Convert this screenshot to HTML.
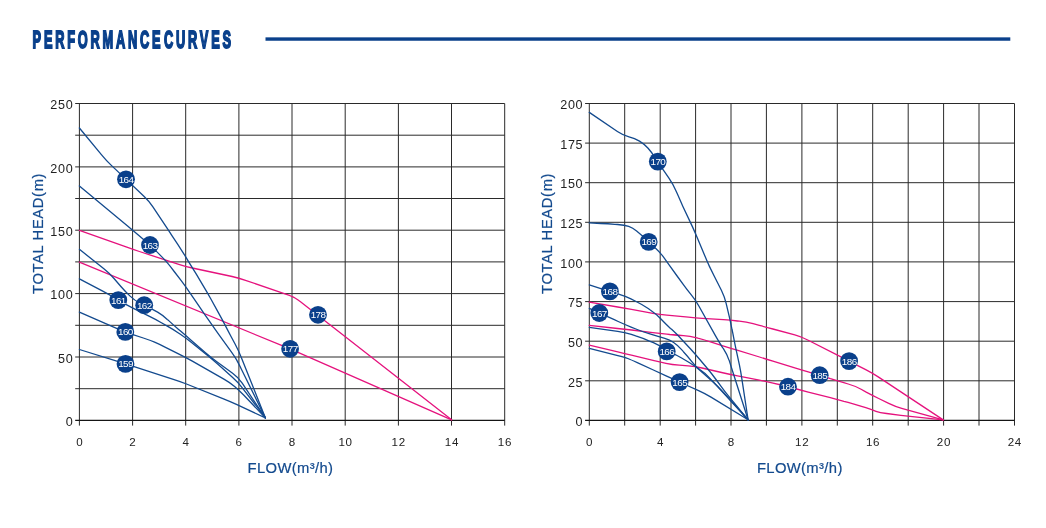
<!DOCTYPE html>
<html lang="en"><head><meta charset="utf-8"><title>Performance Curves</title>
<style>
html,body{margin:0;padding:0;background:#fff;}
body{width:1046px;height:528px;overflow:hidden;position:relative;font-family:"Liberation Sans",sans-serif;}
svg{position:absolute;left:0;top:0;display:block;}
.tk{font-size:12.6px;fill:#222;letter-spacing:0.7px;}
.tb{font-size:11.6px;}
.ax{font-size:14.8px;fill:#134a8e;letter-spacing:0.36px;stroke:#134a8e;stroke-width:0.2;}
.ay{font-size:14.8px;letter-spacing:0.6px;}
.dt{font-size:9.9px;fill:#fff;letter-spacing:-0.55px;}
.g line{stroke:#2a2a2a;stroke-width:1;}
.b path{fill:none;stroke:#134a8e;stroke-width:1.3;stroke-linejoin:round;stroke-linecap:round;}
.p path{fill:none;stroke:#e5127d;stroke-width:1.3;stroke-linejoin:round;stroke-linecap:round;}
.d circle{fill:#0a408b;}
</style></head><body>
<svg width="1046" height="528" viewBox="0 0 1046 528" font-family="Liberation Sans, sans-serif">
<text id="title" transform="translate(32.6,47.5) scale(0.525,1)" x="0" y="0" font-size="24.4" font-weight="bold" fill="#0a408b" stroke="#0a408b" stroke-width="1.5" vector-effect="non-scaling-stroke" textLength="377.9" lengthAdjust="spacing" word-spacing="-10.5">PERFORMANCE CURVES</text>
<rect x="265.5" y="37.35" width="744.8" height="3.4" fill="#0a408b"/>
<g class="g">
<line x1="79.4" y1="103.5" x2="79.4" y2="425.6"/>
<line x1="132.6" y1="103.5" x2="132.6" y2="425.6"/>
<line x1="185.7" y1="103.5" x2="185.7" y2="425.6"/>
<line x1="238.9" y1="103.5" x2="238.9" y2="425.6"/>
<line x1="292.0" y1="103.5" x2="292.0" y2="425.6"/>
<line x1="345.2" y1="103.5" x2="345.2" y2="425.6"/>
<line x1="398.4" y1="103.5" x2="398.4" y2="425.6"/>
<line x1="451.5" y1="103.5" x2="451.5" y2="425.6"/>
<line x1="504.7" y1="103.5" x2="504.7" y2="425.6"/>
<line x1="75.2" y1="103.5" x2="504.7" y2="103.5"/>
<line x1="75.2" y1="135.2" x2="504.7" y2="135.2"/>
<line x1="75.2" y1="166.9" x2="504.7" y2="166.9"/>
<line x1="75.2" y1="198.5" x2="504.7" y2="198.5"/>
<line x1="75.2" y1="230.2" x2="504.7" y2="230.2"/>
<line x1="75.2" y1="261.9" x2="504.7" y2="261.9"/>
<line x1="75.2" y1="293.6" x2="504.7" y2="293.6"/>
<line x1="75.2" y1="325.3" x2="504.7" y2="325.3"/>
<line x1="75.2" y1="357.0" x2="504.7" y2="357.0"/>
<line x1="75.2" y1="388.7" x2="504.7" y2="388.7"/>
<line x1="75.2" y1="420.4" x2="504.7" y2="420.4" style="stroke:#151515;stroke-width:1.25"/>
</g>
<g class="p">
<path d="M79.4,230.3L126.1,246.9Q132.7,249.3 139.4,251.5L178.8,264.3Q185.5,266.5 192.3,268.0L232.1,276.5Q238.9,278.0 245.5,280.3L285.7,294.1Q292.3,296.4 295.0,298.0L295.0,298.0Q297.7,299.6 300.5,301.8L300.5,301.8Q303.3,304.0 308.8,308.3L451.6,419.8"/>
<path d="M79.4,262.1L283.4,346.2Q289.9,348.9 296.3,351.7L451.6,419.8"/>
</g>
<g class="b">
<path d="M79.4,128.0L101.6,154.9Q106.0,160.3 111.1,165.1L143.9,196.3Q149.0,201.1 152.9,206.9L164.4,224.2Q168.3,230.0 172.1,235.9L177.6,244.1Q181.4,250.0 185.1,255.9L189.0,262.3Q192.7,268.2 196.3,274.2L204.3,287.6Q207.9,293.6 211.3,299.7L218.1,312.1Q221.5,318.2 224.6,324.1L224.6,324.1Q227.6,330.0 230.9,336.2L235.2,344.3Q238.5,350.5 241.1,357.0L265.4,417.9"/>
<path d="M79.4,186.0L127.3,225.7Q132.7,230.2 138.0,234.8L144.7,240.4Q150.0,245.0 155.0,249.9L159.9,254.9Q164.9,259.8 167.4,262.9L167.4,262.9Q170.0,265.9 174.2,271.5L181.4,280.9Q185.6,286.5 189.6,292.3L196.3,302.2Q200.3,308.0 204.3,313.8L211.5,324.2Q215.5,330.0 219.6,335.7L230.8,351.1Q234.9,356.8 236.6,359.9L236.6,359.9Q238.3,362.9 241.4,369.2L265.4,417.9"/>
<path d="M79.4,249.3L103.9,268.8Q109.4,273.2 114.0,278.5L120.9,286.5Q125.5,291.8 130.1,296.1L130.1,296.1Q134.7,300.4 139.2,302.8L139.2,302.8Q143.8,305.2 148.4,307.4L148.4,307.4Q153.0,309.6 157.6,312.1L157.6,312.1Q162.2,314.7 167.3,319.5L167.9,319.9Q173.0,324.7 178.3,329.2L180.5,331.1Q185.8,335.6 191.1,340.2L205.5,352.8Q210.8,357.4 216.5,361.5L232.6,373.2Q238.3,377.3 242.2,383.1L265.4,417.9"/>
<path d="M79.4,278.9L103.2,291.4Q109.4,294.7 115.4,298.3L120.6,301.4Q126.6,305.0 132.9,308.1L149.0,316.2Q155.3,319.3 161.4,322.7L166.9,325.9Q173.0,329.3 178.8,333.2L180.0,334.0Q185.8,337.9 191.2,342.3L207.6,355.6Q213.0,360.0 218.2,364.6L232.4,377.2Q237.6,381.8 241.9,387.3L265.4,417.9"/>
<path d="M79.4,312.1L118.3,329.2Q124.7,332.0 131.4,334.2L143.3,338.0Q150.0,340.2 154.6,342.2L154.6,342.2Q159.2,344.2 165.5,347.3L179.5,354.3Q185.8,357.4 191.9,360.9L223.9,379.1Q230.0,382.6 234.6,386.4L234.6,386.4Q239.1,390.2 243.9,395.3L265.4,417.9"/>
<path d="M79.4,349.5L118.4,361.6Q125.1,363.7 131.8,365.8L173.3,379.3Q180.0,381.4 186.5,384.0L223.5,398.9Q230.0,401.5 236.4,404.4L265.4,417.9"/>
</g>
<g class="d">
<circle cx="126.0" cy="179.3" r="8.9"/><text class="dt" x="126.1" y="182.8" text-anchor="middle">164</text>
<circle cx="150.0" cy="245.0" r="8.9"/><text class="dt" x="150.1" y="248.5" text-anchor="middle">163</text>
<circle cx="118.3" cy="300.1" r="8.9"/><text class="dt" x="118.4" y="303.6" text-anchor="middle">161</text>
<circle cx="144.2" cy="305.2" r="8.9"/><text class="dt" x="144.3" y="308.7" text-anchor="middle">162</text>
<circle cx="125.3" cy="331.9" r="8.9"/><text class="dt" x="125.4" y="335.4" text-anchor="middle">160</text>
<circle cx="125.5" cy="363.9" r="8.9"/><text class="dt" x="125.6" y="367.4" text-anchor="middle">159</text>
<circle cx="318.0" cy="314.8" r="8.9"/><text class="dt" x="318.1" y="318.3" text-anchor="middle">178</text>
<circle cx="290.1" cy="348.8" r="8.9"/><text class="dt" x="290.2" y="352.3" text-anchor="middle">177</text>
</g>
<text class="tk tb" x="79.8" y="445.5" text-anchor="middle">0</text>
<text class="tk tb" x="132.9" y="445.5" text-anchor="middle">2</text>
<text class="tk tb" x="186.1" y="445.5" text-anchor="middle">4</text>
<text class="tk tb" x="239.2" y="445.5" text-anchor="middle">6</text>
<text class="tk tb" x="292.4" y="445.5" text-anchor="middle">8</text>
<text class="tk tb" x="345.6" y="445.5" text-anchor="middle">10</text>
<text class="tk tb" x="398.7" y="445.5" text-anchor="middle">12</text>
<text class="tk tb" x="451.9" y="445.5" text-anchor="middle">14</text>
<text class="tk tb" x="505.0" y="445.5" text-anchor="middle">16</text>
<text class="tk" x="73.4" y="109.2" text-anchor="end">250</text>
<text class="tk" x="73.4" y="172.6" text-anchor="end">200</text>
<text class="tk" x="73.4" y="235.9" text-anchor="end">150</text>
<text class="tk" x="73.4" y="299.3" text-anchor="end">100</text>
<text class="tk" x="73.4" y="362.7" text-anchor="end">50</text>
<text class="tk" x="73.4" y="426.1" text-anchor="end">0</text>
<text class="ax" x="290.5" y="472.5" text-anchor="middle">FLOW(m³/h)</text>
<text class="ax ay" transform="translate(42.5,233.4) rotate(-90)" text-anchor="middle">TOTAL HEAD(m)</text>
<g class="g">
<line x1="589.3" y1="103.5" x2="589.3" y2="425.6"/>
<line x1="624.7" y1="103.5" x2="624.7" y2="425.6"/>
<line x1="660.2" y1="103.5" x2="660.2" y2="425.6"/>
<line x1="695.6" y1="103.5" x2="695.6" y2="425.6"/>
<line x1="731.0" y1="103.5" x2="731.0" y2="425.6"/>
<line x1="766.4" y1="103.5" x2="766.4" y2="425.6"/>
<line x1="801.9" y1="103.5" x2="801.9" y2="425.6"/>
<line x1="837.3" y1="103.5" x2="837.3" y2="425.6"/>
<line x1="872.7" y1="103.5" x2="872.7" y2="425.6"/>
<line x1="908.2" y1="103.5" x2="908.2" y2="425.6"/>
<line x1="943.6" y1="103.5" x2="943.6" y2="425.6"/>
<line x1="979.0" y1="103.5" x2="979.0" y2="425.6"/>
<line x1="1014.5" y1="103.5" x2="1014.5" y2="425.6"/>
<line x1="585.1" y1="103.5" x2="1014.5" y2="103.5"/>
<line x1="585.1" y1="143.1" x2="1014.5" y2="143.1"/>
<line x1="585.1" y1="182.7" x2="1014.5" y2="182.7"/>
<line x1="585.1" y1="222.3" x2="1014.5" y2="222.3"/>
<line x1="585.1" y1="261.9" x2="1014.5" y2="261.9"/>
<line x1="585.1" y1="301.6" x2="1014.5" y2="301.6"/>
<line x1="585.1" y1="341.2" x2="1014.5" y2="341.2"/>
<line x1="585.1" y1="380.8" x2="1014.5" y2="380.8"/>
<line x1="585.1" y1="420.4" x2="1014.5" y2="420.4" style="stroke:#151515;stroke-width:1.25"/>
</g>
<g class="p">
<path d="M589.3,302.1L617.7,307.0Q624.6,308.2 631.5,309.4L652.9,313.3Q659.8,314.5 666.8,315.2L688.4,317.2Q695.4,317.9 702.4,318.4L723.4,319.7Q730.4,320.2 737.4,321.0L739.3,321.2Q746.3,322.0 753.1,323.7L759.4,325.4Q766.2,327.1 772.9,329.0L794.8,334.9Q801.5,336.8 807.7,340.0L842.9,357.9Q849.1,361.1 855.3,364.3L866.2,369.8Q872.4,373.0 878.2,376.9L943.2,419.9"/>
<path d="M589.3,325.4L617.6,328.5Q624.6,329.2 631.6,330.0L652.8,332.6Q659.8,333.4 666.8,334.1L669.8,334.5Q676.8,335.2 683.4,335.6L683.4,335.6Q690.0,336.0 696.8,337.8L697.8,338.2Q704.6,340.0 711.3,342.1L723.7,346.1Q730.4,348.2 737.1,350.2L759.5,357.0Q766.2,359.0 772.9,361.1L794.8,367.9Q801.5,370.0 808.2,371.9L813.0,373.3Q819.7,375.2 826.4,377.3L830.4,378.7Q837.1,380.8 843.8,382.7L848.2,384.0Q854.9,385.9 861.1,389.2L866.2,392.1Q872.4,395.4 878.7,398.5L888.7,403.4Q895.0,406.5 901.7,408.4L943.2,419.9"/>
<path d="M589.3,345.1L617.8,351.8Q624.6,353.4 631.4,355.1L653.0,360.3Q659.8,362.0 666.0,363.3L666.0,363.3Q672.2,364.6 679.2,365.2L688.2,365.9Q695.2,366.5 702.0,368.0L723.8,373.0Q730.6,374.5 737.5,375.8L759.4,380.1Q766.3,381.4 773.1,383.1L781.2,385.0Q788.0,386.7 794.8,388.5L794.8,388.5Q801.5,390.3 808.3,392.1L830.3,397.7Q837.1,399.5 843.9,401.3L848.1,402.3Q854.9,404.1 861.5,406.3L865.8,407.7Q872.4,409.9 876.0,411.3L876.0,411.3Q879.7,412.7 886.6,413.5L900.9,415.3Q907.8,416.1 914.8,416.8L943.2,419.9"/>
</g>
<g class="b">
<path d="M589.3,112.4L617.4,131.5Q623.2,135.4 629.0,136.8L629.0,136.8Q634.7,138.2 639.5,141.1L639.5,141.1Q644.3,144.0 648.1,148.3L648.1,148.3Q651.9,152.6 654.6,157.1L654.6,157.1Q657.3,161.6 661.3,167.1L661.3,167.1Q665.3,172.7 669.1,178.4L669.1,178.4Q673.0,184.1 675.8,190.5L677.2,193.6Q680.0,200.0 682.9,206.4L692.4,226.6Q695.3,233.0 698.0,239.5L704.7,255.6Q707.4,262.1 709.3,266.1L709.3,266.1Q711.2,270.0 714.3,276.3L721.5,290.5Q724.6,296.8 726.2,303.6L729.1,315.8Q730.7,322.6 732.0,329.5L732.8,333.1Q734.1,340.0 735.5,346.8L739.5,365.4Q740.9,372.2 741.9,379.1L748.1,419.8"/>
<path d="M589.3,222.9L600.9,223.5Q607.9,223.8 614.9,224.3L617.6,224.5Q624.6,225.0 628.7,226.4L628.7,226.4Q632.8,227.9 636.6,230.9L636.6,230.9Q640.4,234.0 644.7,238.0L644.7,238.0Q649.0,242.0 654.2,246.7L654.8,247.4Q660.0,252.1 664.1,257.8L668.9,264.6Q673.0,270.3 677.1,276.0L683.2,284.3Q687.3,290.0 691.3,294.8L691.3,294.8Q695.3,299.6 698.7,305.7L715.4,335.6Q718.8,341.7 722.6,347.6L723.4,348.6Q727.2,354.5 729.0,360.1L729.1,360.1Q730.9,365.8 733.0,372.5L748.1,419.8"/>
<path d="M589.3,284.9L603.2,289.3Q609.9,291.4 616.6,293.4L617.9,293.8Q624.6,295.8 630.9,298.9L636.1,301.5Q642.4,304.6 648.2,308.5L650.3,310.0Q656.1,313.9 660.7,318.8L660.7,318.8Q665.3,323.7 670.5,328.4L671.6,329.3Q676.8,334.0 681.5,339.2L690.6,349.0Q695.3,354.2 699.8,359.5L707.4,368.5Q711.9,373.8 716.0,379.5L720.7,385.8Q724.8,391.5 729.2,396.9L748.1,419.8"/>
<path d="M589.3,308.4L594.3,310.7Q599.3,313.0 603.6,314.9L603.6,314.9Q607.9,316.8 614.3,319.7L618.2,321.5Q624.6,324.4 631.1,327.1L635.9,329.0Q642.4,331.7 649.1,333.7L653.1,334.9Q659.8,336.9 664.8,338.4L664.8,338.4Q669.9,339.9 673.3,342.2L673.3,342.2Q676.8,344.5 681.6,349.6L683.4,351.7Q688.2,356.8 691.8,361.7L691.8,361.7Q695.3,366.6 700.1,369.8L700.1,369.8Q705.0,372.9 709.7,378.1L748.1,419.8"/>
<path d="M589.3,327.4L617.7,331.3Q624.6,332.3 631.3,334.4L635.7,335.9Q642.4,338.0 648.8,340.8L653.4,342.7Q659.8,345.5 663.2,348.4L663.2,348.4Q666.7,351.4 671.2,352.9L671.2,352.9Q675.6,354.5 681.6,358.0L689.2,362.5Q695.2,366.0 700.4,370.7L713.1,382.0Q718.3,386.7 723.0,391.9L748.1,419.8"/>
<path d="M589.3,348.4L617.8,355.7Q624.6,357.4 627.8,358.5L627.8,358.5Q630.9,359.7 637.3,362.6L653.4,370.0Q659.8,372.9 666.1,375.8L673.3,379.2Q679.6,382.1 686.0,385.0L698.6,390.6Q705.0,393.5 711.0,397.1L748.1,419.8"/>
</g>
<g class="d">
<circle cx="657.8" cy="161.6" r="8.9"/><text class="dt" x="657.9" y="165.1" text-anchor="middle">170</text>
<circle cx="648.7" cy="241.9" r="8.9"/><text class="dt" x="648.8" y="245.4" text-anchor="middle">169</text>
<circle cx="609.9" cy="291.4" r="8.9"/><text class="dt" x="610.0" y="294.9" text-anchor="middle">168</text>
<circle cx="599.3" cy="313.0" r="8.9"/><text class="dt" x="599.4" y="316.5" text-anchor="middle">167</text>
<circle cx="666.7" cy="351.4" r="8.9"/><text class="dt" x="666.8" y="354.9" text-anchor="middle">166</text>
<circle cx="679.6" cy="382.1" r="8.9"/><text class="dt" x="679.7" y="385.6" text-anchor="middle">165</text>
<circle cx="788.0" cy="386.7" r="8.9"/><text class="dt" x="788.1" y="390.2" text-anchor="middle">184</text>
<circle cx="819.7" cy="375.2" r="8.9"/><text class="dt" x="819.8" y="378.7" text-anchor="middle">185</text>
<circle cx="849.1" cy="361.1" r="8.9"/><text class="dt" x="849.2" y="364.6" text-anchor="middle">186</text>
</g>
<text class="tk tb" x="589.6" y="445.5" text-anchor="middle">0</text>
<text class="tk tb" x="660.5" y="445.5" text-anchor="middle">4</text>
<text class="tk tb" x="731.4" y="445.5" text-anchor="middle">8</text>
<text class="tk tb" x="802.2" y="445.5" text-anchor="middle">12</text>
<text class="tk tb" x="873.1" y="445.5" text-anchor="middle">16</text>
<text class="tk tb" x="943.9" y="445.5" text-anchor="middle">20</text>
<text class="tk tb" x="1014.8" y="445.5" text-anchor="middle">24</text>
<text class="tk" x="583.3" y="109.2" text-anchor="end">200</text>
<text class="tk" x="583.3" y="148.8" text-anchor="end">175</text>
<text class="tk" x="583.3" y="188.4" text-anchor="end">150</text>
<text class="tk" x="583.3" y="228.0" text-anchor="end">125</text>
<text class="tk" x="583.3" y="267.6" text-anchor="end">100</text>
<text class="tk" x="583.3" y="307.3" text-anchor="end">75</text>
<text class="tk" x="583.3" y="346.9" text-anchor="end">50</text>
<text class="tk" x="583.3" y="386.5" text-anchor="end">25</text>
<text class="tk" x="583.3" y="426.1" text-anchor="end">0</text>
<text class="ax" x="799.8" y="472.5" text-anchor="middle">FLOW(m³/h)</text>
<text class="ax ay" transform="translate(552.2,233.4) rotate(-90)" text-anchor="middle">TOTAL HEAD(m)</text>
</svg>
</body></html>
